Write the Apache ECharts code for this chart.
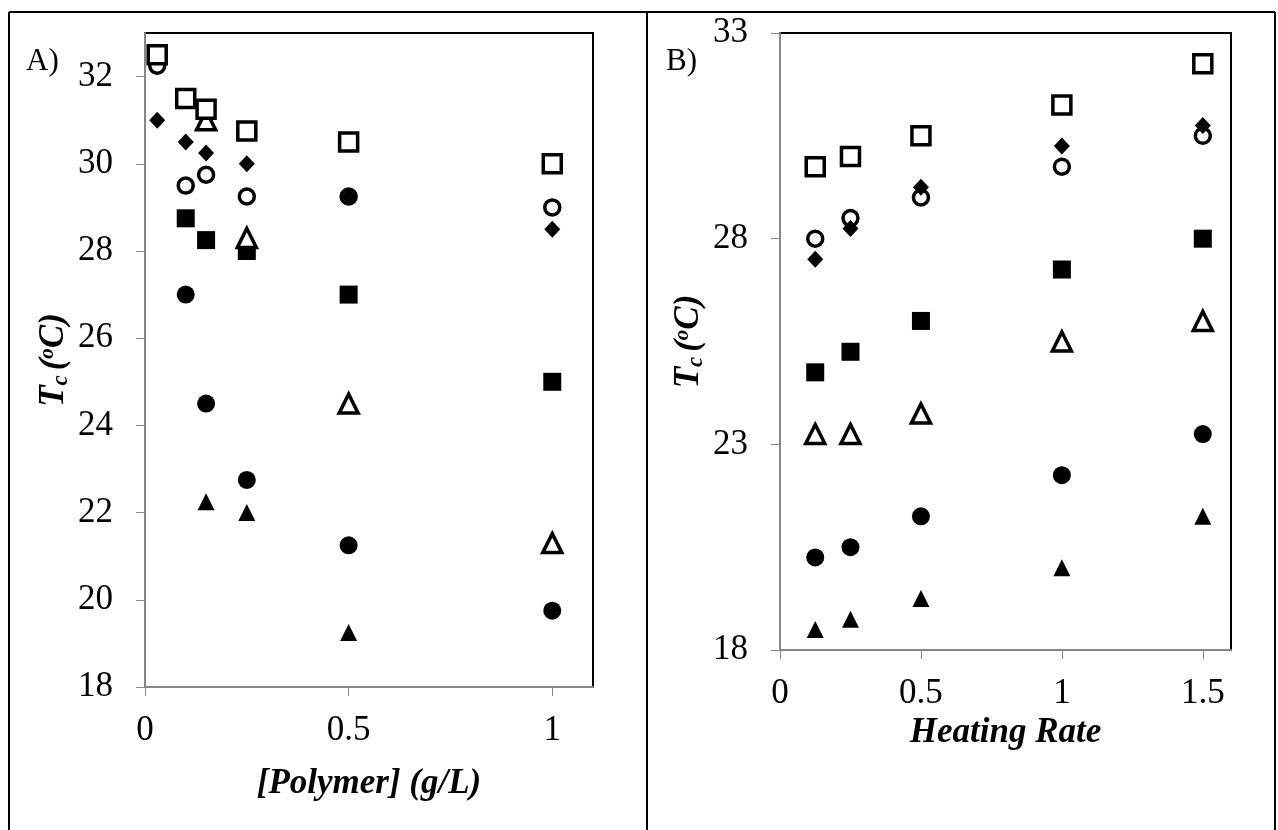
<!DOCTYPE html>
<html>
<head>
<meta charset="utf-8">
<script src="https://cdn.jsdelivr.net/npm/echarts/dist/echarts.min.js"></script>
<style>
html,body{margin:0;padding:0;background:#fff;}
#main{width:1278px;height:830px;}
</style>
</head>
<body>
<div id="main"></div>
<script>
// panel A - x = polymer concentration
var xPolymer=[0.03,0.1,0.15,0.25,0.5,1];
var openSqA=[32.5,31.5,31.25,30.75,30.5,30];
var diamondA=[31,30.5,30.25,30,29.25,28.5];
var openCircA=[32.25,29.5,29.75,29.25,29.25,29];
var fillSqA=[null,28.75,28.25,28,27,25];
var openTriA=[null,null,31,28.3,24.5,21.3];
var fillCircA=[null,27,24.5,22.75,21.25,19.75];
var fillTriA=[null,null,22.25,22,19.25,null];

// panel B - x = heating rate
var xRate=[0.125,0.25,0.5,1,1.5];
var openSqB=[29.75,30,30.5,31.25,32.25];
var diamondB=[27.5,28.25,29.25,30.25,30.75];
var openCircB=[28,28.5,29,29.75,30.5];
var fillSqB=[24.75,25.25,26,27.25,28];
var openTriB=[23.25,23.25,23.75,25.5,26];
var fillCircB=[20.25,20.5,21.25,22.25,23.25];
var fillTriB=[18.5,18.75,19.25,20,21.25];

var serif='"Liberation Serif","Times New Roman",serif';

// marker looks, same order in both panels (z = draw order)
var looks=[
	{symbol:'rect',size:18,hollow:true,z:9},
	{symbol:'diamond',size:[16,17],hollow:false,z:4},
	{symbol:'circle',size:15,hollow:true,z:3},
	{symbol:'rect',size:18,hollow:false,z:5},
	{symbol:'triangle',size:19,hollow:true,z:6},
	{symbol:'circle',size:18,hollow:false,z:7},
	{symbol:'triangle',size:17,hollow:false,z:8}
];

function pairs(xs,ys){
	var out=[];
	for(var i=0;i<xs.length;i++){
		if(ys[i]!=null)out.push([xs[i],ys[i]]);
	}
	return out;
}

function makeSeries(xs,list,idx){
	var arr=[];
	for(var i=0;i<list.length;i++){
		var lk=looks[i];
		arr.push({
			type:'scatter',
			xAxisIndex:idx,
			yAxisIndex:idx,
			symbol:lk.symbol,
			symbolSize:lk.size,
			data:pairs(xs,list[i]),
			itemStyle:lk.hollow?{color:'#fff',borderColor:'#000',borderWidth:3.5,opacity:1}:{color:'#000',opacity:1},
			emphasis:{disabled:true},
			z:lk.z
		});
	}
	return arr;
}

var yName='{t|T}{s|c}{t|(}{o|o}{t|C)}';
var nameRich={
	t:{fontFamily:serif,fontSize:35,fontWeight:'bold',fontStyle:'italic',color:'#000',lineHeight:40,verticalAlign:'middle'},
	s:{fontFamily:serif,fontSize:23,fontWeight:'bold',fontStyle:'italic',color:'#000',lineHeight:40,verticalAlign:'bottom',padding:[0,5,2,0]},
	o:{fontFamily:serif,fontSize:21,fontWeight:'bold',fontStyle:'italic',color:'#000',lineHeight:40,verticalAlign:'top',padding:[3,0,0,0]}
};

function xAx(idx,max,interval,name,gap){
	return {
		type:'value',gridIndex:idx,min:0,max:max,interval:interval,
		name:name,nameLocation:'middle',nameGap:gap,
		nameTextStyle:{fontFamily:serif,fontSize:35,fontWeight:'bold',fontStyle:'italic',color:'#000'},
		axisLine:{show:true,onZero:false,lineStyle:{color:'#868686',width:2}},
		axisTick:{show:true,length:9,lineStyle:{color:'#868686'}},
		axisLabel:{fontFamily:serif,fontSize:35,color:'#000',margin:26,showMaxLabel:false},
		splitLine:{show:false}
	};
}
function yAx(idx,interval){
	return {
		type:'value',gridIndex:idx,min:18,max:33,interval:interval,
		name:yName,nameLocation:'middle',nameGap:68,nameRotate:90,
		nameTextStyle:{rich:nameRich},
		axisLine:{show:true,onZero:false,lineStyle:{color:'#868686',width:2}},
		axisTick:{show:true,length:9,lineStyle:{color:'#868686'}},
		axisLabel:{fontFamily:serif,fontSize:35,color:'#000',margin:32,showMaxLabel:interval==5},
		splitLine:{show:false}
	};
}

var myChart=echarts.init(document.getElementById('main'));
var option={
	backgroundColor:'#fff',
	animation:false,
	grid:[
		{left:145,top:33,width:448,height:654,show:true,borderColor:'#000',borderWidth:2,backgroundColor:'transparent'},
		{left:780,top:33,width:451,height:617,show:true,borderColor:'#000',borderWidth:2,backgroundColor:'transparent'}
	],
	xAxis:[xAx(0,1.1,0.5,'[Polymer] (g/L)',79),xAx(1,1.6,0.5,'Heating Rate',65)],
	yAxis:[yAx(0,2),yAx(1,5)],
	graphic:[
		//外框
		{type:'line',shape:{x1:9,y1:12,x2:1275,y2:12},style:{stroke:'#000',lineWidth:2}},
		{type:'line',shape:{x1:9,y1:12,x2:9,y2:830},style:{stroke:'#000',lineWidth:2}},
		{type:'line',shape:{x1:647,y1:12,x2:647,y2:830},style:{stroke:'#000',lineWidth:2}},
		{type:'line',shape:{x1:1275,y1:12,x2:1275,y2:830},style:{stroke:'#000',lineWidth:2}},
		{type:'text',left:26,top:46,style:{text:'A)',fontSize:31,fontFamily:serif,fill:'#000'}},
		{type:'text',left:666,top:46,style:{text:'B)',fontSize:31,fontFamily:serif,fill:'#000'}}
	],
	series:makeSeries(xPolymer,[openSqA,diamondA,openCircA,fillSqA,openTriA,fillCircA,fillTriA],0)
		.concat(makeSeries(xRate,[openSqB,diamondB,openCircB,fillSqB,openTriB,fillCircB,fillTriB],1))
};
myChart.setOption(option);
</script>
</body>
</html>
